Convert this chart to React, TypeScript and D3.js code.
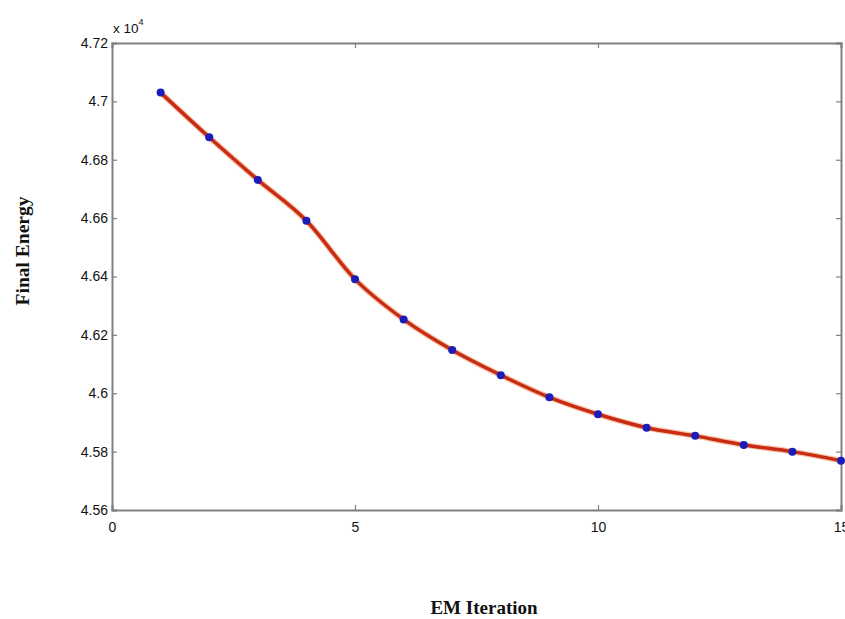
import React, { useEffect, useRef } from "react";
import * as d3 from "d3";

// EM iteration number and the final energy (in units of 10^4)
const iterations = [1, 2, 3, 4, 5, 6, 7, 8, 9, 10, 11, 12, 13, 14, 15];
const energy = [
  4.703, 4.6877, 4.6731, 4.6591, 4.6391, 4.6253, 4.6148, 4.6062, 4.5986,
  4.5928, 4.5882, 4.5854, 4.5823, 4.58, 4.5769,
];
const xTicks = [0, 5, 10, 15];
const yTicks = [4.56, 4.58, 4.6, 4.62, 4.64, 4.66, 4.68, 4.7, 4.72];

const width = 845;
const height = 619;
const margin = { top: 43, right: 4, bottom: 109, left: 112 };

function App() {
  const ref = useRef<SVGSVGElement>(null);

  useEffect(() => {
    const svg = d3.select(ref.current);
    svg.selectAll("*").remove();

    const x = d3
      .scaleLinear()
      .domain([0, 15])
      .range([margin.left, width - margin.right]);
    const y = d3
      .scaleLinear()
      .domain([4.56, 4.72])
      .range([height - margin.bottom, margin.top]);

    const tickFont = "'Liberation Sans', Arial, sans-serif";
    const fmt = (d: number) => String(+d.toFixed(2));

    // bottom axis, ticks pointing inward
    const bottom = svg
      .append("g")
      .attr("transform", `translate(0,${y(4.56)})`)
      .call(d3.axisBottom(x).tickValues(xTicks).tickSize(-5).tickPadding(9).tickFormat((d) => String(d)));
    // left axis
    const left = svg
      .append("g")
      .attr("transform", `translate(${x(0)},0)`)
      .call(d3.axisLeft(y).tickValues(yTicks).tickSize(-5).tickPadding(4).tickFormat((d) => fmt(+d)));
    // top and right axes without labels
    const top = svg
      .append("g")
      .attr("transform", `translate(0,${y(4.72)})`)
      .call(d3.axisTop(x).tickValues(xTicks).tickSize(-5).tickFormat(() => ""));
    const right = svg
      .append("g")
      .attr("transform", `translate(${x(15)},0)`)
      .call(d3.axisRight(y).tickValues(yTicks).tickSize(-5).tickFormat(() => ""));

    [bottom, left, top, right].forEach((g) => {
      g.select(".domain").attr("stroke", "#808080").attr("stroke-width", 2);
      g.selectAll(".tick line").attr("stroke", "#808080").attr("stroke-width", 1.2);
      g.selectAll(".tick text")
        .attr("fill", "#111")
        .style("font-family", tickFont)
        .style("font-size", "14px");
    });
    bottom.selectAll(".tick text").attr("dy", "0.9em");

    // exponent label
    const expo = svg
      .append("text")
      .attr("x", x(0) + 1)
      .attr("y", 33)
      .attr("fill", "#111")
      .style("font-family", tickFont)
      .style("font-size", "13.5px");
    expo.append("tspan").text("x 10");
    expo.append("tspan").attr("dy", -8).style("font-size", "9px").text("4");

    const pts = iterations.map((it, i) => [x(it), y(energy[i])] as [number, number]);
    const curve = d3.line().curve(d3.curveMonotoneX);

    svg
      .append("path")
      .attr("d", curve(pts))
      .attr("fill", "none")
      .attr("stroke", "#e8601c")
      .attr("stroke-opacity", 0.35)
      .attr("stroke-width", 6);
    svg
      .append("path")
      .attr("d", curve(pts))
      .attr("fill", "none")
      .attr("stroke", "#c82c12")
      .attr("stroke-width", 3.5);

    svg
      .selectAll(".dot")
      .data(pts)
      .join("circle")
      .attr("class", "dot")
      .attr("cx", (d) => d[0])
      .attr("cy", (d) => d[1])
      .attr("r", 4)
      .attr("fill", "#1c1cb8");

    const labelFont = "'Liberation Serif', 'Times New Roman', serif";
    svg
      .append("text")
      .attr("x", 484)
      .attr("y", 614)
      .attr("text-anchor", "middle")
      .attr("fill", "#111")
      .style("font-family", labelFont)
      .style("font-weight", "bold")
      .style("font-size", "19px")
      .text("EM Iteration");
    svg
      .append("text")
      .attr("transform", "translate(29,251) rotate(-90)")
      .attr("text-anchor", "middle")
      .attr("fill", "#111")
      .style("font-family", labelFont)
      .style("font-weight", "bold")
      .style("font-size", "19.5px")
      .text("Final Energy");
  }, []);

  return (
    <svg
      ref={ref}
      width={width}
      height={height}
      style={{ position: "absolute", left: 0, top: 0, background: "#fff" }}
    />
  );
}

export default App;
